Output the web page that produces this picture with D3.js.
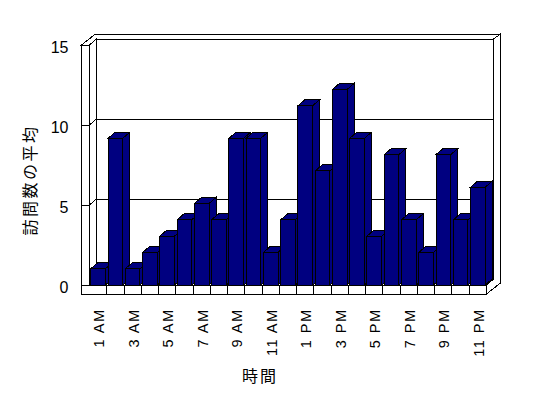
<!DOCTYPE html>
<html>
<head>
<meta charset="utf-8">
<script src="https://cdn.jsdelivr.net/npm/d3@7"></script>
<style>
  body { margin: 0; background: #fff; }
</style>
</head>
<body>
<div id="chart"></div>
<script>
const hours = [
  "1 AM", "2 AM", "3 AM", "4 AM", "5 AM", "6 AM", "7 AM", "8 AM", "9 AM", "10 AM", "11 AM",
  "12 PM", "1 PM", "2 PM", "3 PM", "4 PM", "5 PM", "6 PM", "7 PM", "8 PM", "9 PM", "10 PM", "11 PM",
];
const visits = [1, 9, 1, 2, 3, 4, 5, 4, 9, 9, 2, 4, 11, 7, 12, 9, 3, 8, 4, 2, 8, 4, 6];
const yTicks = [0, 5, 10, 15];
const xLabels = hours.filter((d, i) => i % 2 === 0);

const width = 548;
const height = 398;
const dx = 7, dy = -6; // depth of the plot box
const tx = 7, ty = -5; // thickness of the walls

const svg = d3
  .select("#chart")
  .append("svg")
  .attr("width", width)
  .attr("height", height)
  .style("shape-rendering", "crispEdges");

const x = d3
  .scaleBand()
  .domain(hours)
  .range([89.5, 486.5])
  .paddingInner(0.15)
  .paddingOuter(0.075);

const y = d3.scaleLinear().domain([0, 15]).range([285, 45]);
const yBar = d3.scaleLinear().domain([0, 15]).range([285, 40.5]);

const [x0, x1] = x.range();
const y0 = y(0);
const yTop = y(15);
const wallLeft = x0 - 8;
const floorBottom = y0 + 9;

const line = d3.line();
const poly = (pts) => line(pts) + "Z";

const walls = svg.append("g").attr("fill", "#fff").attr("stroke", "#000");

// top of the walls
walls.append("path").attr("d", poly([
  [wallLeft, yTop],
  [wallLeft + dx + tx, yTop + dy + ty],
  [x1 + dx + tx, yTop + dy + ty],
  [x1 + dx, yTop + dy],
  [x0 + dx, yTop + dy],
  [x0, yTop],
]));

// back wall
walls.append("rect")
  .attr("x", x0 + dx)
  .attr("y", yTop + dy)
  .attr("width", x1 - x0)
  .attr("height", y0 - yTop);

// inner face of the left wall
walls.append("path").attr("d", poly([
  [x0, yTop], [x0 + dx, yTop + dy], [x0 + dx, y0 + dy], [x0, y0],
]));

// right side of back wall and floor
walls.append("path").attr("d", poly([
  [x1, y0],
  [x1 + dx, y0 + dy],
  [x1 + dx, yTop + dy],
  [x1 + dx + tx, yTop + dy + ty],
  [x1 + dx + tx, floorBottom + dy + ty],
  [x1, floorBottom],
]));

// floor top
walls.append("path").attr("d", poly([
  [x0, y0], [x1, y0], [x1 + dx, y0 + dy], [x0 + dx, y0 + dy],
]));

// front of left wall and floor
walls.append("path").attr("d", poly([
  [wallLeft, yTop], [x0, yTop], [x0, y0], [x1, y0], [x1, floorBottom], [wallLeft, floorBottom],
]));

// gridlines
const grid = svg.append("g").attr("stroke", "#000");
yTicks.filter((v) => v > 0 && v < 15).forEach((v) => {
  grid.append("line")
    .attr("x1", x0 + dx).attr("x2", x1 + dx)
    .attr("y1", y(v) + dy).attr("y2", y(v) + dy);
  grid.append("line")
    .attr("x1", x0).attr("x2", x0 + dx)
    .attr("y1", y(v)).attr("y2", y(v) + dy);
});

// category divisions on the floor
d3.range(1, hours.length).forEach((i) => {
  const xx = x0 + x.step() * i;
  grid.append("line")
    .attr("x1", xx).attr("x2", xx)
    .attr("y1", y0).attr("y2", floorBottom);
});

// bars
const bw = x.bandwidth();
const bars = svg
  .selectAll("g.bar")
  .data(hours.map((h, i) => ({ hour: h, value: visits[i] })))
  .enter()
  .append("g")
  .attr("class", "bar")
  .attr("fill", "#000080")
  .attr("stroke", "#000");

bars.append("path").attr("d", (d) => {
  const bx = x(d.hour), top = yBar(d.value);
  return poly([[bx + bw, y0], [bx + bw + dx, y0 + dy], [bx + bw + dx, top + dy], [bx + bw, top]]);
});
bars.append("path").attr("d", (d) => {
  const bx = x(d.hour), top = yBar(d.value);
  return poly([[bx, top], [bx + dx, top + dy], [bx + bw + dx, top + dy], [bx + bw, top]]);
});
bars.append("rect")
  .attr("x", (d) => x(d.hour))
  .attr("y", (d) => yBar(d.value))
  .attr("width", bw)
  .attr("height", (d) => y0 - yBar(d.value));

// y axis on the front of the left wall
const yAxis = svg
  .append("g")
  .attr("transform", `translate(${wallLeft},0)`)
  .call(d3.axisLeft(y).tickValues(yTicks).tickSizeInner(-(x0 - wallLeft)).tickSizeOuter(0).tickPadding(13));
yAxis.select(".domain").remove();
yAxis.selectAll("line").attr("stroke", "#000");
yAxis.selectAll("text")
  .attr("fill", "#000")
  .attr("dy", "0.45em")
  .style("font-family", "'Liberation Sans', Arial, sans-serif")
  .style("font-size", "16px");

// x labels, rotated
svg
  .append("g")
  .selectAll("text")
  .data(xLabels)
  .enter()
  .append("text")
  .attr("transform", (d) => `translate(${x(d) + bw / 2 + 6},308.5) rotate(-90)`)
  .attr("text-anchor", "end")
  .style("font-family", "'Liberation Sans', Arial, sans-serif")
  .style("font-size", "14.5px")
  .style("letter-spacing", "1.5px")
  .text((d) => d);

// axis titles
svg
  .append("text")
  .attr("transform", "translate(36,180) rotate(-90)")
  .attr("text-anchor", "middle")
  .style("font-family", "'Noto Sans CJK JP', sans-serif")
  .style("font-size", "16px")
  .style("letter-spacing", "2.5px")
  .text("訪問数の平均");

svg
  .append("text")
  .attr("x", 260)
  .attr("y", 382)
  .attr("text-anchor", "middle")
  .style("font-family", "'Noto Sans CJK JP', sans-serif")
  .style("font-size", "16px")
  .style("letter-spacing", "2px")
  .text("時間");
</script>
</body>
</html>
